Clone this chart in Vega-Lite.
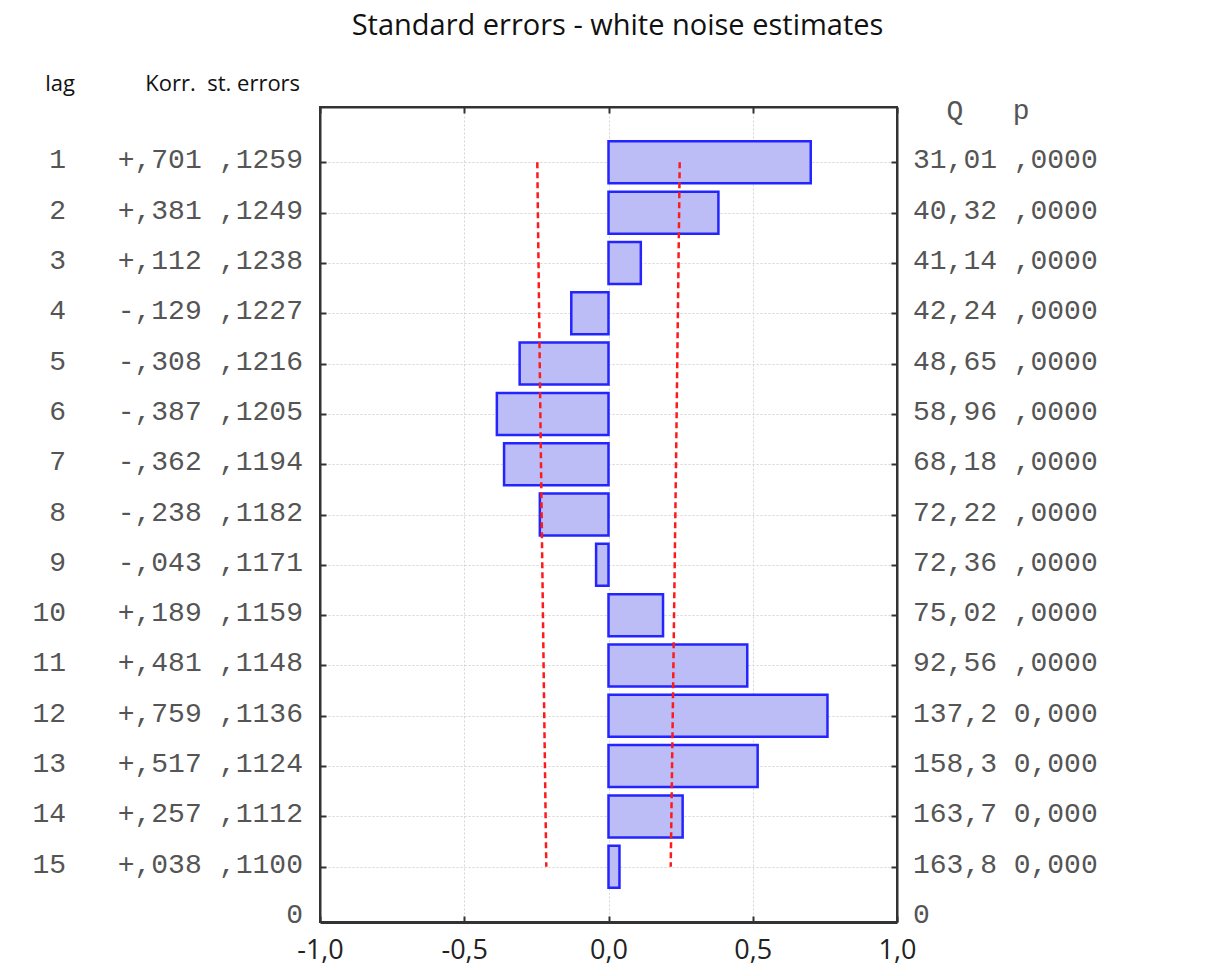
{
  "$schema": "https://vega.github.io/schema/vega-lite/v6.json",
  "width": 577,
  "height": 815,
  "autosize": {"type": "none"},
  "padding": {"left": 320, "top": 107, "right": 311, "bottom": 54},
  "background": "white",
  "title": {"text": "Standard errors - white noise estimates", "font": "Open Sans", "fontSize": 29, "fontWeight": "normal", "color": "#111", "anchor": "middle", "dx": 9, "offset": 32},
  "config": {
    "locale": {"number": {"decimal": ",", "thousands": ".", "grouping": [3], "currency": ["", ""], "minus": "-"}},
    "view": {"stroke": "#333", "strokeWidth": 2},
    "axis": {"domainColor": "#333", "domainWidth": 2, "tickColor": "#333", "tickWidth": 2, "tickSize": -6, "gridColor": "#d4d4d4", "gridDash": [2, 2], "gridWidth": 1, "title": null}
  },
  "datasets": {
    "acf": [
      {"lag": 1, "r": 0.701, "se": 0.1259, "Q": 31.01, "p": 0.0, "rtxt": "+,701", "setxt": ",1259", "qtxt": "31,01", "ptxt": ",0000", "lo": -0.2468, "hi": 0.2468},
      {"lag": 2, "r": 0.381, "se": 0.1249, "Q": 40.32, "p": 0.0, "rtxt": "+,381", "setxt": ",1249", "qtxt": "40,32", "ptxt": ",0000", "lo": -0.2448, "hi": 0.2448},
      {"lag": 3, "r": 0.112, "se": 0.1238, "Q": 41.14, "p": 0.0, "rtxt": "+,112", "setxt": ",1238", "qtxt": "41,14", "ptxt": ",0000", "lo": -0.2426, "hi": 0.2426},
      {"lag": 4, "r": -0.129, "se": 0.1227, "Q": 42.24, "p": 0.0, "rtxt": "-,129", "setxt": ",1227", "qtxt": "42,24", "ptxt": ",0000", "lo": -0.2405, "hi": 0.2405},
      {"lag": 5, "r": -0.308, "se": 0.1216, "Q": 48.65, "p": 0.0, "rtxt": "-,308", "setxt": ",1216", "qtxt": "48,65", "ptxt": ",0000", "lo": -0.2383, "hi": 0.2383},
      {"lag": 6, "r": -0.387, "se": 0.1205, "Q": 58.96, "p": 0.0, "rtxt": "-,387", "setxt": ",1205", "qtxt": "58,96", "ptxt": ",0000", "lo": -0.2362, "hi": 0.2362},
      {"lag": 7, "r": -0.362, "se": 0.1194, "Q": 68.18, "p": 0.0, "rtxt": "-,362", "setxt": ",1194", "qtxt": "68,18", "ptxt": ",0000", "lo": -0.2340, "hi": 0.2340},
      {"lag": 8, "r": -0.238, "se": 0.1182, "Q": 72.22, "p": 0.0, "rtxt": "-,238", "setxt": ",1182", "qtxt": "72,22", "ptxt": ",0000", "lo": -0.2317, "hi": 0.2317},
      {"lag": 9, "r": -0.043, "se": 0.1171, "Q": 72.36, "p": 0.0, "rtxt": "-,043", "setxt": ",1171", "qtxt": "72,36", "ptxt": ",0000", "lo": -0.2295, "hi": 0.2295},
      {"lag": 10, "r": 0.189, "se": 0.1159, "Q": 75.02, "p": 0.0, "rtxt": "+,189", "setxt": ",1159", "qtxt": "75,02", "ptxt": ",0000", "lo": -0.2272, "hi": 0.2272},
      {"lag": 11, "r": 0.481, "se": 0.1148, "Q": 92.56, "p": 0.0, "rtxt": "+,481", "setxt": ",1148", "qtxt": "92,56", "ptxt": ",0000", "lo": -0.2250, "hi": 0.2250},
      {"lag": 12, "r": 0.759, "se": 0.1136, "Q": 137.2, "p": 0.0, "rtxt": "+,759", "setxt": ",1136", "qtxt": "137,2", "ptxt": "0,000", "lo": -0.2227, "hi": 0.2227},
      {"lag": 13, "r": 0.517, "se": 0.1124, "Q": 158.3, "p": 0.0, "rtxt": "+,517", "setxt": ",1124", "qtxt": "158,3", "ptxt": "0,000", "lo": -0.2203, "hi": 0.2203},
      {"lag": 14, "r": 0.257, "se": 0.1112, "Q": 163.7, "p": 0.0, "rtxt": "+,257", "setxt": ",1112", "qtxt": "163,7", "ptxt": "0,000", "lo": -0.2180, "hi": 0.2180},
      {"lag": 15, "r": 0.038, "se": 0.1100, "Q": 163.8, "p": 0.0, "rtxt": "+,038", "setxt": ",1100", "qtxt": "163,8", "ptxt": "0,000", "lo": -0.2156, "hi": 0.2156}
    ]
  },
  "layer": [
    {
      "data": {"name": "acf"},
      "mark": {"type": "bar", "orient": "horizontal", "size": 42, "fill": "#bcbcf6", "stroke": "#2424ff", "strokeWidth": 2.5},
      "encoding": {
        "x": {"field": "r", "type": "quantitative", "scale": {"domain": [-1, 1], "nice": false, "zero": false},
              "axis": {"orient": "bottom", "values": [-1, -0.5, 0, 0.5, 1], "format": ".1f", "grid": true, "domainWidth": 3, "labelFont": "Open Sans", "labelFontSize": 27, "labelColor": "#222", "labelPadding": 21, "labelFlush": false}},
        "x2": {"datum": 0},
        "y": {"field": "lag", "type": "quantitative", "scale": {"domain": [0, 16], "reverse": true, "nice": false, "zero": false},
              "axis": {"orient": "left", "values": [1, 2, 3, 4, 5, 6, 7, 8, 9, 10, 11, 12, 13, 14, 15], "labels": false, "grid": true}}
      }
    },
    {
      "data": {"name": "acf"},
      "mark": {"type": "line", "color": "#ff1a1a", "strokeWidth": 2.5, "strokeDash": [6, 4]},
      "encoding": {
        "x": {"field": "lo", "type": "quantitative", "scale": {"domain": [-1, 1], "nice": false, "zero": false},
              "axis": {"orient": "top", "values": [-1, -0.5, 0, 0.5, 1], "labels": false, "grid": false}},
        "y": {"field": "lag", "type": "quantitative", "scale": {"domain": [0, 16], "reverse": true, "nice": false, "zero": false},
              "axis": {"orient": "right", "values": [1, 2, 3, 4, 5, 6, 7, 8, 9, 10, 11, 12, 13, 14, 15], "labels": false, "grid": false}},
        "order": {"field": "lag"}
      }
    },
    {
      "data": {"name": "acf"},
      "mark": {"type": "line", "color": "#ff1a1a", "strokeWidth": 2.5, "strokeDash": [6, 4]},
      "encoding": {
        "x": {"field": "hi", "type": "quantitative", "scale": {"domain": [-1, 1], "nice": false, "zero": false}, "axis": null},
        "y": {"field": "lag", "type": "quantitative", "scale": {"domain": [0, 16], "reverse": true, "nice": false, "zero": false}, "axis": null},
        "order": {"field": "lag"}
      }
    },
    {
      "data": {"name": "acf"},
      "mark": {"type": "text", "font": "Liberation Mono", "fontSize": 28, "color": "#555", "align": "right", "baseline": "middle", "dy": -2},
      "encoding": {
        "x": {"datum": -1.88, "type": "quantitative", "scale": {"domain": [-1, 1], "nice": false, "zero": false}, "axis": null},
        "y": {"field": "lag", "type": "quantitative", "scale": {"domain": [0, 16], "reverse": true, "nice": false, "zero": false}, "axis": null},
        "text": {"field": "lag", "type": "quantitative"}
      }
    },
    {
      "data": {"name": "acf"},
      "mark": {"type": "text", "font": "Liberation Mono", "fontSize": 28, "color": "#555", "align": "right", "baseline": "middle", "dy": -2},
      "encoding": {
        "x": {"datum": -1.41, "type": "quantitative", "scale": {"domain": [-1, 1], "nice": false, "zero": false}, "axis": null},
        "y": {"field": "lag", "type": "quantitative", "scale": {"domain": [0, 16], "reverse": true, "nice": false, "zero": false}, "axis": null},
        "text": {"field": "rtxt"}
      }
    },
    {
      "data": {"name": "acf"},
      "mark": {"type": "text", "font": "Liberation Mono", "fontSize": 28, "color": "#555", "align": "right", "baseline": "middle", "dy": -2},
      "encoding": {
        "x": {"datum": -1.059, "type": "quantitative", "scale": {"domain": [-1, 1], "nice": false, "zero": false}, "axis": null},
        "y": {"field": "lag", "type": "quantitative", "scale": {"domain": [0, 16], "reverse": true, "nice": false, "zero": false}, "axis": null},
        "text": {"field": "setxt"}
      }
    },
    {
      "data": {"name": "acf"},
      "mark": {"type": "text", "font": "Liberation Mono", "fontSize": 28, "color": "#555", "align": "left", "baseline": "middle", "dy": -2},
      "encoding": {
        "x": {"datum": 1.0555, "type": "quantitative", "scale": {"domain": [-1, 1], "nice": false, "zero": false}, "axis": null},
        "y": {"field": "lag", "type": "quantitative", "scale": {"domain": [0, 16], "reverse": true, "nice": false, "zero": false}, "axis": null},
        "text": {"field": "qtxt"}
      }
    },
    {
      "data": {"name": "acf"},
      "mark": {"type": "text", "font": "Liberation Mono", "fontSize": 28, "color": "#555", "align": "left", "baseline": "middle", "dy": -2},
      "encoding": {
        "x": {"datum": 1.4045, "type": "quantitative", "scale": {"domain": [-1, 1], "nice": false, "zero": false}, "axis": null},
        "y": {"field": "lag", "type": "quantitative", "scale": {"domain": [0, 16], "reverse": true, "nice": false, "zero": false}, "axis": null},
        "text": {"field": "ptxt"}
      }
    },
    {
      "data": {"values": [{}]},
      "mark": {"type": "text", "text": "0", "font": "Liberation Mono", "fontSize": 28, "color": "#555", "align": "right", "baseline": "middle", "dy": -2},
      "encoding": {
        "x": {"datum": -1.059, "type": "quantitative", "scale": {"domain": [-1, 1], "nice": false, "zero": false}, "axis": null},
        "y": {"datum": 16, "type": "quantitative", "scale": {"domain": [0, 16], "reverse": true, "nice": false, "zero": false}, "axis": null}
      }
    },
    {
      "data": {"values": [{}]},
      "mark": {"type": "text", "text": "0", "font": "Liberation Mono", "fontSize": 28, "color": "#555", "align": "left", "baseline": "middle", "dy": -2},
      "encoding": {
        "x": {"datum": 1.0555, "type": "quantitative", "scale": {"domain": [-1, 1], "nice": false, "zero": false}, "axis": null},
        "y": {"datum": 16, "type": "quantitative", "scale": {"domain": [0, 16], "reverse": true, "nice": false, "zero": false}, "axis": null}
      }
    },
    {
      "data": {"values": [{}]},
      "mark": {"type": "text", "text": "Q", "font": "Liberation Mono", "fontSize": 28, "color": "#555", "align": "center", "baseline": "middle"},
      "encoding": {
        "x": {"datum": 1.201, "type": "quantitative", "scale": {"domain": [-1, 1], "nice": false, "zero": false}, "axis": null},
        "y": {"datum": -0.02, "type": "quantitative", "scale": {"domain": [0, 16], "reverse": true, "nice": false, "zero": false}, "axis": null}
      }
    },
    {
      "data": {"values": [{}]},
      "mark": {"type": "text", "text": "p", "font": "Liberation Mono", "fontSize": 28, "color": "#555", "align": "center", "baseline": "middle"},
      "encoding": {
        "x": {"datum": 1.43, "type": "quantitative", "scale": {"domain": [-1, 1], "nice": false, "zero": false}, "axis": null},
        "y": {"datum": -0.02, "type": "quantitative", "scale": {"domain": [0, 16], "reverse": true, "nice": false, "zero": false}, "axis": null}
      }
    },
    {
      "data": {"values": [{}]},
      "mark": {"type": "text", "text": "lag", "font": "Open Sans", "fontSize": 22, "color": "#111", "align": "center", "baseline": "middle"},
      "encoding": {
        "x": {"datum": -1.901, "type": "quantitative", "scale": {"domain": [-1, 1], "nice": false, "zero": false}, "axis": null},
        "y": {"datum": -0.55, "type": "quantitative", "scale": {"domain": [0, 16], "reverse": true, "nice": false, "zero": false}, "axis": null}
      }
    },
    {
      "data": {"values": [{}]},
      "mark": {"type": "text", "text": "Korr.\u00a0 st. errors", "font": "Open Sans", "fontSize": 22, "color": "#111", "align": "right", "baseline": "middle"},
      "encoding": {
        "x": {"datum": -1.069, "type": "quantitative", "scale": {"domain": [-1, 1], "nice": false, "zero": false}, "axis": null},
        "y": {"datum": -0.55, "type": "quantitative", "scale": {"domain": [0, 16], "reverse": true, "nice": false, "zero": false}, "axis": null}
      }
    }
  ]
}
